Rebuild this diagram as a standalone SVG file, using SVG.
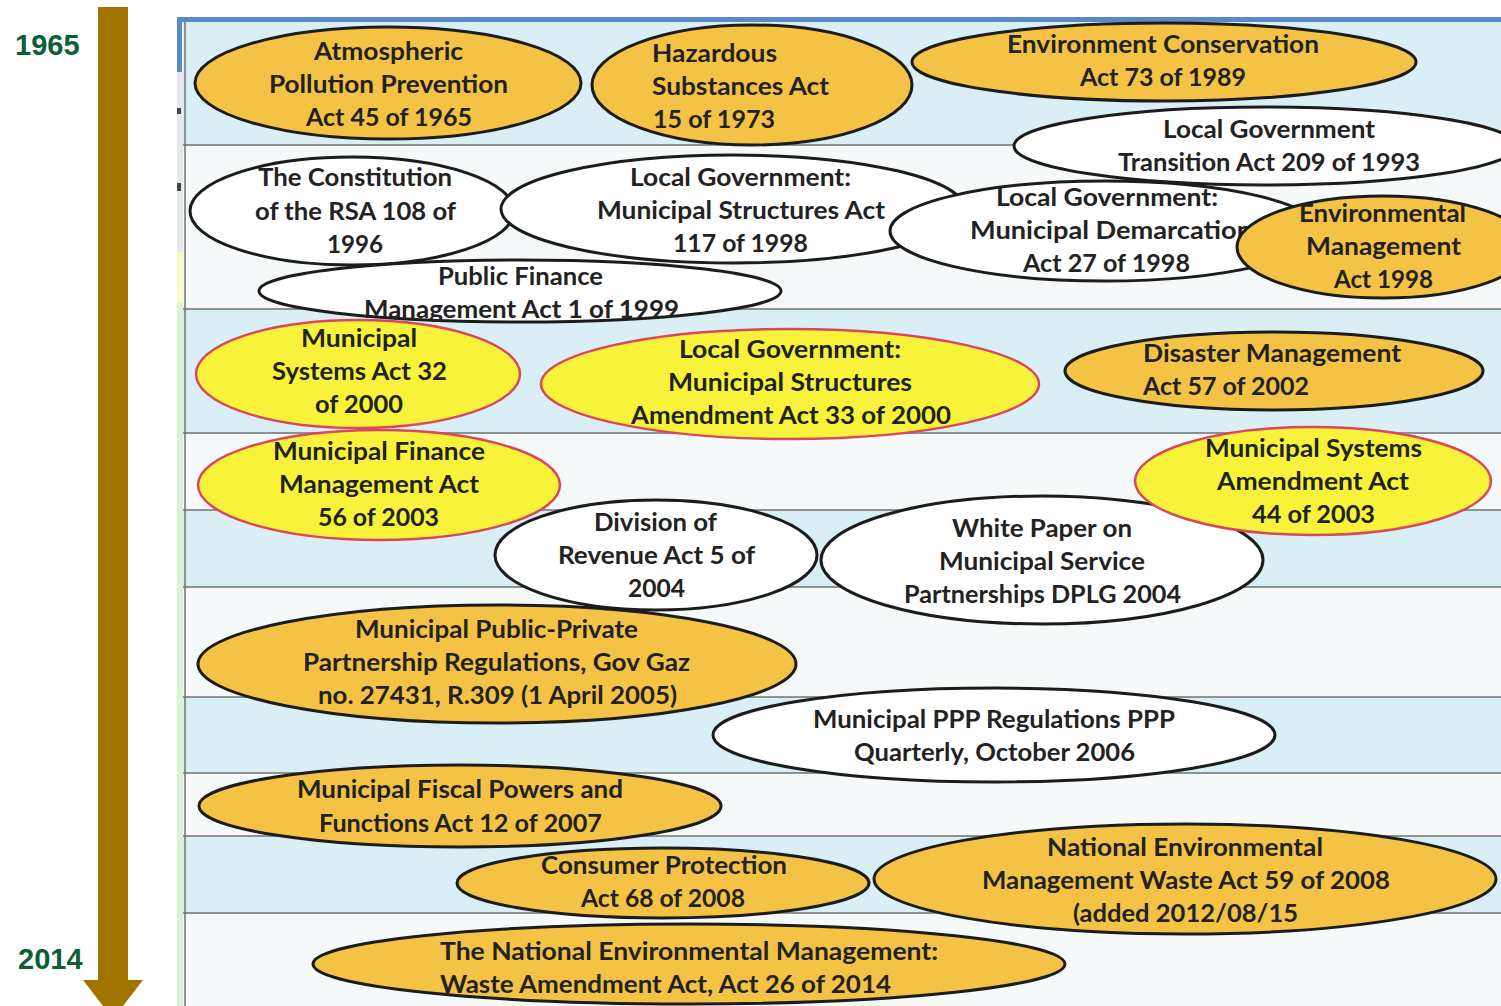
<svg xmlns="http://www.w3.org/2000/svg" width="1501" height="1006" viewBox="0 0 1501 1006">
  <style>
    .gold { fill: #f4c244; stroke: #1c1c1c; stroke-width: 3; }
    .white { fill: #ffffff; stroke: #1c1c1c; stroke-width: 3; }
    .yellow { fill: #f9f23a; stroke: #d8475c; stroke-width: 2.5; }
    .band-a { fill: #d9eff5; }
    .band-b { fill: #f6f9fa; }
    .rule { stroke: #707070; stroke-width: 1.5; }
    .t { font-family: Lato, "Open Sans", "Liberation Sans", sans-serif; font-weight: 700; font-size: 24px; fill: #222222; }
    .year { font-family: "Liberation Sans", Arial, sans-serif; font-weight: 700; font-size: 29px; fill: #0b5e38; }
  </style>

  <rect width="1501" height="1006" fill="#ffffff"/>

  <!-- timeline arrow with start and end years -->
  <g id="timeline">
    <rect x="98" y="7" width="30" height="975" fill="#a17400"/>
    <polygon points="83,980 143,980 113,1019" fill="#a17400"/>
    <text class="year" x="15" y="55">1965</text>
    <text class="year" x="18" y="969">2014</text>
  </g>

  <!-- striped chart background -->
  <g id="background">
    <rect x="177" y="17" width="1324" height="5" fill="#5a8ac6"/>
    <rect x="177" y="17" width="5" height="55" fill="#5a8ac6"/>
    <rect x="177" y="72" width="6" height="180" fill="#e6e8ea"/>
    <rect x="177" y="108" width="4" height="6" fill="#444"/>
    <rect x="177" y="183" width="4" height="8" fill="#444"/>
    <rect x="177" y="252" width="6" height="50" fill="#fbfac4"/>
    <rect x="177" y="302" width="6" height="704" fill="#d8f5d2"/>
    <rect class="band-a" x="183" y="22" width="1318" height="123"/>
    <rect class="band-b" x="183" y="145" width="1318" height="164"/>
    <rect class="band-a" x="183" y="309" width="1318" height="124"/>
    <rect class="band-b" x="183" y="433" width="1318" height="77"/>
    <rect class="band-a" x="183" y="510" width="1318" height="77"/>
    <rect class="band-b" x="183" y="587" width="1318" height="110"/>
    <rect class="band-a" x="183" y="697" width="1318" height="76"/>
    <rect class="band-b" x="183" y="773" width="1318" height="63"/>
    <rect class="band-a" x="183" y="836" width="1318" height="77"/>
    <rect class="band-b" x="183" y="913" width="1318" height="93"/>
    <line class="rule" x1="185" y1="22" x2="185" y2="1006"/>
    <line class="rule" x1="183" y1="145" x2="1501" y2="145"/>
    <line class="rule" x1="183" y1="309" x2="1501" y2="309"/>
    <line class="rule" x1="183" y1="433" x2="1501" y2="433"/>
    <line class="rule" x1="183" y1="510" x2="1501" y2="510"/>
    <line class="rule" x1="183" y1="587" x2="1501" y2="587"/>
    <line class="rule" x1="183" y1="697" x2="1501" y2="697"/>
    <line class="rule" x1="183" y1="773" x2="1501" y2="773"/>
    <line class="rule" x1="183" y1="836" x2="1501" y2="836"/>
    <line class="rule" x1="183" y1="913" x2="1501" y2="913"/>
  </g>

  <!-- no connectors between the acts -->
  <g id="connectors"/>

  <g id="act-1965">
    <ellipse class="gold" cx="388" cy="83" rx="193" ry="56"/>
    <text class="t" x="314" y="60" textLength="149" lengthAdjust="spacingAndGlyphs">Atmospheric</text>
    <text class="t" x="269" y="93" textLength="239" lengthAdjust="spacingAndGlyphs">Pollution Prevention</text>
    <text class="t" x="306" y="126" textLength="166" lengthAdjust="spacingAndGlyphs">Act 45 of 1965</text>
  </g>

  <g id="act-1973">
    <ellipse class="gold" cx="752" cy="85" rx="160" ry="60"/>
    <text class="t" x="652" y="62" textLength="125" lengthAdjust="spacingAndGlyphs">Hazardous</text>
    <text class="t" x="652" y="95" textLength="177" lengthAdjust="spacingAndGlyphs">Substances Act</text>
    <text class="t" x="653" y="128" textLength="122" lengthAdjust="spacingAndGlyphs">15 of 1973</text>
  </g>

  <g id="act-1989">
    <ellipse class="gold" cx="1164" cy="62" rx="252" ry="39"/>
    <text class="t" x="1007" y="53" textLength="312" lengthAdjust="spacingAndGlyphs">Environment Conservation</text>
    <text class="t" x="1080" y="86" textLength="166" lengthAdjust="spacingAndGlyphs">Act 73 of 1989</text>
  </g>

  <g id="act-1996">
    <ellipse class="white" cx="352" cy="211" rx="162" ry="54"/>
    <text class="t" x="258" y="186" textLength="194" lengthAdjust="spacingAndGlyphs">The Constitution</text>
    <text class="t" x="255" y="220" textLength="201" lengthAdjust="spacingAndGlyphs">of the RSA 108 of</text>
    <text class="t" x="327" y="253" textLength="56" lengthAdjust="spacingAndGlyphs">1996</text>
  </g>

  <g id="act-1998-structures">
    <ellipse class="white" cx="733" cy="209" rx="232" ry="54"/>
    <text class="t" x="630" y="186" textLength="221" lengthAdjust="spacingAndGlyphs">Local Government:</text>
    <text class="t" x="597" y="219" textLength="288" lengthAdjust="spacingAndGlyphs">Municipal Structures Act</text>
    <text class="t" x="673" y="252" textLength="135" lengthAdjust="spacingAndGlyphs">117 of 1998</text>
  </g>

  <g id="act-1998-demarcation">
    <ellipse class="white" cx="1105" cy="231" rx="215" ry="50"/>
    <text class="t" x="996" y="206" textLength="222" lengthAdjust="spacingAndGlyphs">Local Government:</text>
    <text class="t" x="970" y="239" textLength="282" lengthAdjust="spacingAndGlyphs">Municipal Demarcation</text>
    <text class="t" x="1023" y="272" textLength="167" lengthAdjust="spacingAndGlyphs">Act 27 of 1998</text>
  </g>

  <g id="act-1993">
    <ellipse class="white" cx="1265" cy="146" rx="251" ry="39"/>
    <text class="t" x="1163" y="138" textLength="212" lengthAdjust="spacingAndGlyphs">Local Government</text>
    <text class="t" x="1118" y="171" textLength="302" lengthAdjust="spacingAndGlyphs">Transition Act 209 of 1993</text>
  </g>

  <g id="act-1998-environment">
    <ellipse class="gold" cx="1383" cy="247" rx="146" ry="51"/>
    <text class="t" x="1299" y="222" textLength="167" lengthAdjust="spacingAndGlyphs">Environmental</text>
    <text class="t" x="1306" y="255" textLength="155" lengthAdjust="spacingAndGlyphs">Management</text>
    <text class="t" x="1334" y="288" textLength="99" lengthAdjust="spacingAndGlyphs">Act 1998</text>
  </g>

  <g id="act-1999">
    <ellipse class="white" cx="520" cy="291" rx="261" ry="31"/>
    <text class="t" x="438" y="285" textLength="165" lengthAdjust="spacingAndGlyphs">Public Finance</text>
    <text class="t" x="364" y="318" textLength="315" lengthAdjust="spacingAndGlyphs">Management Act 1 of 1999</text>
  </g>

  <g id="act-2000-systems">
    <ellipse class="yellow" cx="358" cy="374" rx="162" ry="54"/>
    <text class="t" x="301" y="347" textLength="116" lengthAdjust="spacingAndGlyphs">Municipal</text>
    <text class="t" x="272" y="380" textLength="175" lengthAdjust="spacingAndGlyphs">Systems Act 32</text>
    <text class="t" x="315" y="413" textLength="88" lengthAdjust="spacingAndGlyphs">of 2000</text>
  </g>

  <g id="act-2000-structures-amendment">
    <ellipse class="yellow" cx="790" cy="384" rx="249" ry="55"/>
    <text class="t" x="679" y="358" textLength="222" lengthAdjust="spacingAndGlyphs">Local Government:</text>
    <text class="t" x="668" y="391" textLength="244" lengthAdjust="spacingAndGlyphs">Municipal Structures</text>
    <text class="t" x="631" y="424" textLength="320" lengthAdjust="spacingAndGlyphs">Amendment Act 33 of 2000</text>
  </g>

  <g id="act-2002">
    <ellipse class="gold" cx="1274" cy="371" rx="209" ry="39"/>
    <text class="t" x="1143" y="362" textLength="258" lengthAdjust="spacingAndGlyphs">Disaster Management</text>
    <text class="t" x="1143" y="395" textLength="166" lengthAdjust="spacingAndGlyphs">Act 57 of 2002</text>
  </g>

  <g id="act-2003-finance">
    <ellipse class="yellow" cx="379" cy="485" rx="181" ry="55"/>
    <text class="t" x="273" y="460" textLength="212" lengthAdjust="spacingAndGlyphs">Municipal Finance</text>
    <text class="t" x="279" y="493" textLength="200" lengthAdjust="spacingAndGlyphs">Management Act</text>
    <text class="t" x="318" y="526" textLength="121" lengthAdjust="spacingAndGlyphs">56 of 2003</text>
  </g>

  <g id="regs-2005">
    <ellipse class="gold" cx="497" cy="664" rx="299" ry="59"/>
    <text class="t" x="355" y="638" textLength="283" lengthAdjust="spacingAndGlyphs">Municipal Public-Private</text>
    <text class="t" x="303" y="671" textLength="387" lengthAdjust="spacingAndGlyphs">Partnership Regulations, Gov Gaz</text>
    <text class="t" x="318" y="704" textLength="359" lengthAdjust="spacingAndGlyphs">no. 27431, R.309 (1 April 2005)</text>
  </g>

  <g id="act-2004-revenue">
    <ellipse class="white" cx="656" cy="555" rx="161" ry="55"/>
    <text class="t" x="594" y="531" textLength="123" lengthAdjust="spacingAndGlyphs">Division of</text>
    <text class="t" x="558" y="564" textLength="197" lengthAdjust="spacingAndGlyphs">Revenue Act 5 of</text>
    <text class="t" x="628" y="597" textLength="57" lengthAdjust="spacingAndGlyphs">2004</text>
  </g>

  <g id="paper-2004">
    <ellipse class="white" cx="1042" cy="560" rx="221" ry="64"/>
    <text class="t" x="952" y="537" textLength="180" lengthAdjust="spacingAndGlyphs">White Paper on</text>
    <text class="t" x="939" y="570" textLength="206" lengthAdjust="spacingAndGlyphs">Municipal Service</text>
    <text class="t" x="904" y="603" textLength="277" lengthAdjust="spacingAndGlyphs">Partnerships DPLG 2004</text>
  </g>

  <g id="act-2003-systems-amendment">
    <ellipse class="yellow" cx="1313" cy="481" rx="178" ry="54"/>
    <text class="t" x="1205" y="457" textLength="217" lengthAdjust="spacingAndGlyphs">Municipal Systems</text>
    <text class="t" x="1217" y="490" textLength="192" lengthAdjust="spacingAndGlyphs">Amendment Act</text>
    <text class="t" x="1252" y="523" textLength="123" lengthAdjust="spacingAndGlyphs">44 of 2003</text>
  </g>

  <g id="regs-2006">
    <ellipse class="white" cx="994" cy="735" rx="281" ry="47"/>
    <text class="t" x="813" y="728" textLength="362" lengthAdjust="spacingAndGlyphs">Municipal PPP Regulations PPP</text>
    <text class="t" x="854" y="761" textLength="281" lengthAdjust="spacingAndGlyphs">Quarterly, October 2006</text>
  </g>

  <g id="act-2007">
    <ellipse class="gold" cx="460" cy="806" rx="261" ry="41"/>
    <text class="t" x="297" y="798" textLength="326" lengthAdjust="spacingAndGlyphs">Municipal Fiscal Powers and</text>
    <text class="t" x="319" y="832" textLength="283" lengthAdjust="spacingAndGlyphs">Functions Act 12 of 2007</text>
  </g>

  <g id="act-2008-consumer">
    <ellipse class="gold" cx="663" cy="883" rx="206" ry="35"/>
    <text class="t" x="541" y="874" textLength="246" lengthAdjust="spacingAndGlyphs">Consumer Protection</text>
    <text class="t" x="581" y="907" textLength="164" lengthAdjust="spacingAndGlyphs">Act 68 of 2008</text>
  </g>

  <g id="act-2008-waste">
    <ellipse class="gold" cx="1185" cy="879" rx="311" ry="55"/>
    <text class="t" x="1047" y="856" textLength="276" lengthAdjust="spacingAndGlyphs">National Environmental</text>
    <text class="t" x="982" y="889" textLength="408" lengthAdjust="spacingAndGlyphs">Management Waste Act 59 of 2008</text>
    <text class="t" x="1073" y="922" textLength="225" lengthAdjust="spacingAndGlyphs">(added 2012/08/15</text>
  </g>

  <g id="act-2014">
    <ellipse class="gold" cx="689" cy="964" rx="376" ry="40"/>
    <text class="t" x="440" y="960" textLength="498" lengthAdjust="spacingAndGlyphs">The National Environmental Management:</text>
    <text class="t" x="440" y="993" textLength="451" lengthAdjust="spacingAndGlyphs">Waste Amendment Act, Act 26 of 2014</text>
  </g>
</svg>
